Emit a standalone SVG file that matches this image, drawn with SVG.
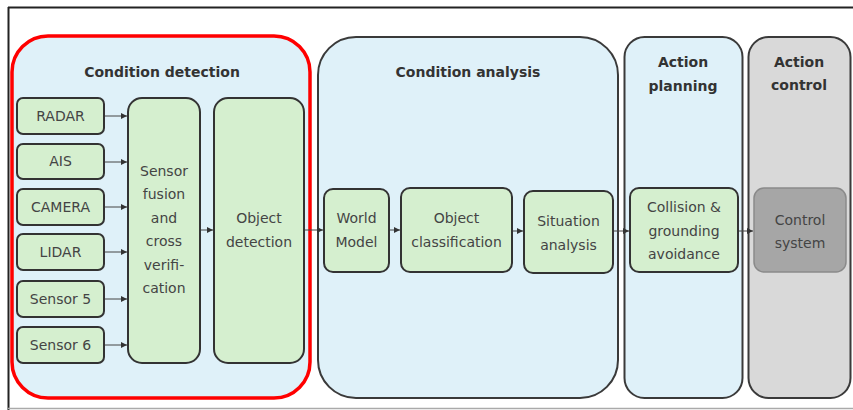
<svg xmlns="http://www.w3.org/2000/svg" width="853" height="410" viewBox="0 0 853 410">
<defs>
<style>
.stage{stroke:#3a3a3a;stroke-width:2}
.blue{fill:#dff1f9}
.grey{fill:#d9d9d9}
.node{fill:#d5efcf;stroke:#333;stroke-width:2}
.ctrl{fill:#a6a6a6;stroke:#8a8a8a;stroke-width:1.5}
.title{font-family:"DejaVu Sans",Verdana,sans-serif;font-size:14px;font-weight:bold;fill:#333;text-anchor:middle}
.lbl{font-family:"DejaVu Sans",Verdana,sans-serif;font-size:14px;fill:#444;text-anchor:middle}
.conn{stroke:#444;stroke-width:1;fill:none;marker-end:url(#ah)}
</style>
<marker id="ah" viewBox="0 0 6 6" refX="6" refY="3" markerWidth="6" markerHeight="6" markerUnits="userSpaceOnUse" orient="auto">
<path d="M0,0 L6,3 L0,6 z" fill="#333"/>
</marker>
</defs>
<rect width="853" height="410" fill="#fff"/>
<line x1="8" y1="7.5" x2="853" y2="7.5" stroke="#222" stroke-width="2"/>
<line x1="8.5" y1="7" x2="8.5" y2="410" stroke="#222" stroke-width="2"/>
<line x1="8" y1="408.5" x2="853" y2="408.5" stroke="#aaa" stroke-width="1.5"/>

<g id="stage-condition-detection">
<rect x="12" y="36" width="298" height="362" rx="36" class="blue" stroke="#ff0000" stroke-width="3.5"/>
<text x="162" y="77" class="title">Condition detection</text>
</g>
<g id="stage-condition-analysis">
<rect x="318" y="37" width="300" height="361" rx="38" class="blue stage"/>
<text x="468" y="77" class="title">Condition analysis</text>
</g>
<g id="stage-action-planning">
<rect x="624.5" y="37" width="118" height="361" rx="20" class="blue stage"/>
<text x="683" y="67" class="title">Action</text>
<text x="683" y="91" class="title">planning</text>
</g>
<g id="stage-action-control">
<rect x="748.5" y="37" width="102" height="361" rx="20" class="grey stage"/>
<text x="799" y="67" class="title">Action</text>
<text x="799" y="90" class="title">control</text>
</g>

<g id="radar"><rect x="17" y="98" width="87" height="36" rx="6" class="node"/><text x="60.5" y="121" class="lbl">RADAR</text></g>
<g id="ais"><rect x="17" y="144" width="87" height="35" rx="6" class="node"/><text x="60.5" y="166" class="lbl">AIS</text></g>
<g id="camera"><rect x="17" y="189" width="87" height="36" rx="6" class="node"/><text x="60.5" y="212" class="lbl">CAMERA</text></g>
<g id="lidar"><rect x="17" y="234" width="87" height="36" rx="6" class="node"/><text x="60.5" y="257" class="lbl">LIDAR</text></g>
<g id="sensor5"><rect x="17" y="281" width="87" height="36" rx="6" class="node"/><text x="60.5" y="304" class="lbl">Sensor 5</text></g>
<g id="sensor6"><rect x="17" y="327" width="87" height="36" rx="6" class="node"/><text x="60.5" y="350" class="lbl">Sensor 6</text></g>

<g id="sensor-fusion"><rect x="128" y="98" width="72" height="265" rx="14" class="node"/>
<text class="lbl"><tspan x="164" y="176">Sensor</tspan><tspan x="164" y="199">fusion</tspan><tspan x="164" y="223">and</tspan><tspan x="164" y="246">cross</tspan><tspan x="164" y="270">verifi-</tspan><tspan x="164" y="293">cation</tspan></text></g>

<g id="object-detection"><rect x="214" y="98" width="90" height="265" rx="14" class="node"/>
<text class="lbl"><tspan x="259" y="223">Object</tspan><tspan x="259" y="247">detection</tspan></text></g>

<g id="world-model"><rect x="324" y="189" width="65" height="83" rx="9" class="node"/>
<text class="lbl"><tspan x="356.5" y="223">World</tspan><tspan x="356.5" y="247">Model</tspan></text></g>

<g id="object-classification"><rect x="401" y="188" width="111" height="84" rx="9" class="node"/>
<text class="lbl"><tspan x="456.5" y="223">Object</tspan><tspan x="456.5" y="247">classification</tspan></text></g>

<g id="situation-analysis"><rect x="524" y="191" width="89" height="82" rx="9" class="node"/>
<text class="lbl"><tspan x="568.5" y="226">Situation</tspan><tspan x="568.5" y="250">analysis</tspan></text></g>

<g id="collision-avoidance"><rect x="630" y="188" width="108" height="84" rx="9" class="node"/>
<text class="lbl"><tspan x="684" y="212">Collision &amp;</tspan><tspan x="684" y="236">grounding</tspan><tspan x="684" y="259">avoidance</tspan></text></g>

<g id="control-system"><rect x="754" y="188" width="92" height="84" rx="10" class="ctrl"/>
<text class="lbl" fill="#444"><tspan x="800" y="225">Control</tspan><tspan x="800" y="248">system</tspan></text></g>

<g id="connectors">
<line x1="105" y1="116" x2="127" y2="116" class="conn"/>
<line x1="105" y1="162" x2="127" y2="162" class="conn"/>
<line x1="105" y1="207" x2="127" y2="207" class="conn"/>
<line x1="105" y1="252" x2="127" y2="252" class="conn"/>
<line x1="105" y1="299" x2="127" y2="299" class="conn"/>
<line x1="105" y1="345" x2="127" y2="345" class="conn"/>
<line x1="201" y1="230" x2="213" y2="230" class="conn"/>
<line x1="305" y1="230" x2="323" y2="230" class="conn"/>
<line x1="390" y1="230" x2="400" y2="230" class="conn"/>
<line x1="513" y1="231" x2="523" y2="231" class="conn"/>
<line x1="614" y1="231" x2="629" y2="231" class="conn"/>
<line x1="739" y1="231" x2="753" y2="231" class="conn"/>
</g>
</svg>
